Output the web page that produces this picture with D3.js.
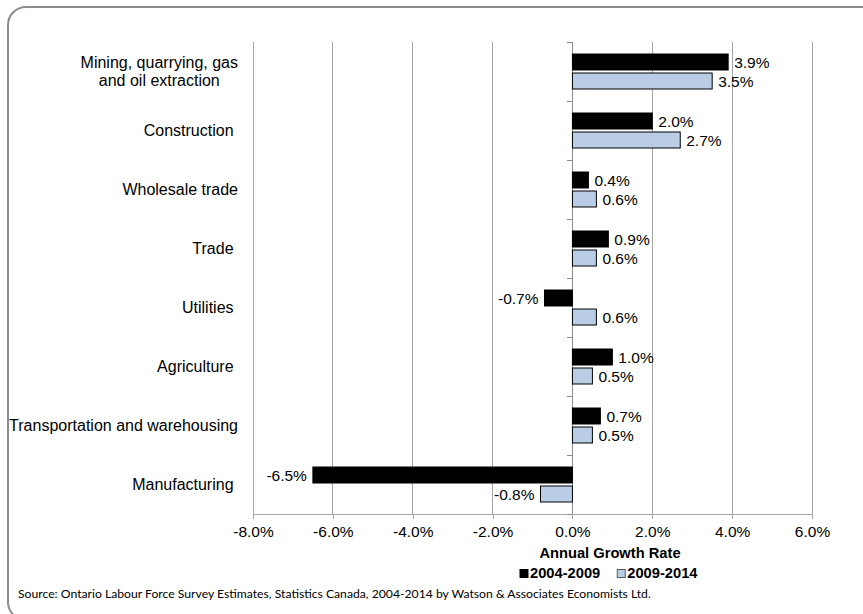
<!DOCTYPE html>
<html>
<head>
<meta charset="utf-8">
<script src="https://cdn.jsdelivr.net/npm/d3@7"></script>
<style>
  html, body { margin: 0; padding: 0; background: #fff; }
  svg { display: block; }
</style>
</head>
<body>
<svg id="chart" width="863" height="614"></svg>
<script>
// Industry groups, top to bottom (label lines per category)
const categories = [
  ["Mining, quarrying, gas", "and oil extraction"],
  ["Construction\u00a0"],
  ["Wholesale trade"],
  ["Trade\u00a0"],
  ["Utilities\u00a0"],
  ["Agriculture\u00a0"],
  ["Transportation and warehousing"],
  ["Manufacturing\u00a0"]
];
const seriesNames = ["2004-2009", "2009-2014"];
// Annual growth rates (%)
const growth2004_2009 = [3.9, 2.0, 0.4, 0.9, -0.7, 1.0, 0.7, -6.5];
const growth2009_2014 = [3.5, 2.7, 0.6, 0.6, 0.6, 0.5, 0.5, -0.8];
const xTicks = [-8, -6, -4, -2, 0, 2, 4, 6];
const axisTitle = "Annual Growth Rate";
const sourceNote = "Source: Ontario Labour Force Survey Estimates, Statistics Canada, 2004-2014 by Watson & Associates Economists Ltd.";

const colors = { "2004-2009": "#000000", "2009-2014": "#b9cde5" };
const gridColor = "#a6a6a6";
const sansFont = "'Liberation Sans', Arial, sans-serif";
// Percent with one decimal and a plain hyphen for negatives
const pct = v => d3.format(".1f")(v).replace("\u2212", "-") + "%";

const svg = d3.select("#chart");

// Outer chart frame (rounded, running past the right and bottom edges)
svg.append("rect")
  .attr("x", 8).attr("y", 7)
  .attr("width", 900).attr("height", 613)
  .attr("rx", 18).attr("ry", 18)
  .attr("fill", "#fff")
  .attr("stroke", "#8c8c8c")
  .attr("stroke-width", 2);

const plot = { left: 253, right: 812, top: 42, bottom: 514 };

const x = d3.scaleLinear().domain([-8, 6]).range([plot.left, plot.right]);
const catKeys = categories.map((c, i) => i);
const y = d3.scaleBand().domain(catKeys).range([plot.top, plot.bottom]);
const pairHeight = 35;
const y1 = d3.scaleBand().domain(seriesNames)
  .range([(y.bandwidth() - pairHeight) / 2, (y.bandwidth() + pairHeight) / 2])
  .paddingInner(3 / 19);

// Vertical gridlines
svg.append("g")
  .selectAll("line")
  .data(xTicks)
  .join("line")
  .attr("x1", d => x(d)).attr("x2", d => x(d))
  .attr("y1", plot.top).attr("y2", plot.bottom)
  .attr("stroke", gridColor).attr("stroke-width", 1)
  .attr("shape-rendering", "crispEdges");

// Bottom axis with outward ticks
const xAxis = d3.axisBottom(x)
  .tickValues(xTicks)
  .tickSize(5)
  .tickSizeOuter(0)
  .tickFormat(pct);
const gx = svg.append("g")
  .attr("transform", `translate(0,${plot.bottom})`)
  .call(xAxis);
gx.select(".domain").attr("stroke", gridColor).attr("shape-rendering", "crispEdges");
gx.selectAll(".tick line").attr("stroke", gridColor).attr("shape-rendering", "crispEdges");
gx.selectAll(".tick text")
  .attr("fill", "#000")
  .attr("font-family", sansFont)
  .attr("font-size", 15.5)
  .attr("y", 12)
  .attr("dy", "0.71em");

// Category axis along zero with small ticks between groups
svg.append("line")
  .attr("x1", x(0)).attr("x2", x(0))
  .attr("y1", plot.top).attr("y2", plot.bottom)
  .attr("stroke", "#8c8c8c")
  .attr("shape-rendering", "crispEdges");
const boundaries = catKeys.map(k => y(k)).concat([plot.bottom]);
svg.append("g")
  .selectAll("line")
  .data(boundaries)
  .join("line")
  .attr("x1", x(0) - 5).attr("x2", x(0))
  .attr("y1", d => d).attr("y2", d => d)
  .attr("stroke", "#8c8c8c")
  .attr("shape-rendering", "crispEdges");

// Bars
const rows = catKeys.map(i => ({
  key: i,
  values: [
    { series: "2004-2009", value: growth2004_2009[i] },
    { series: "2009-2014", value: growth2009_2014[i] }
  ]
}));

const groups = svg.append("g")
  .selectAll("g")
  .data(rows)
  .join("g")
  .attr("transform", d => `translate(0,${y(d.key)})`);

groups.selectAll("rect")
  .data(d => d.values)
  .join("rect")
  .attr("x", d => x(Math.min(0, d.value)))
  .attr("width", d => Math.abs(x(d.value) - x(0)))
  .attr("y", d => y1(d.series))
  .attr("height", y1.bandwidth())
  .attr("fill", d => colors[d.series])
  .attr("stroke", "#000")
  .attr("stroke-width", 1);

// Value labels
groups.selectAll("text")
  .data(d => d.values)
  .join("text")
  .attr("x", d => d.value < 0 ? x(d.value) - 6 : x(d.value) + 6)
  .attr("y", d => y1(d.series) + y1.bandwidth() / 2)
  .attr("dy", "0.36em")
  .attr("text-anchor", d => d.value < 0 ? "end" : "start")
  .attr("font-family", sansFont)
  .attr("font-size", 15.5)
  .attr("fill", "#000")
  .text(d => pct(d.value));

// Category labels, right-aligned block with centered lines
const labelRight = 238;
const lineH = 18;
catKeys.forEach(i => {
  const lines = categories[i];
  const t = svg.append("text")
    .attr("font-family", sansFont)
    .attr("font-size", 16)
    .attr("fill", "#000")
    .attr("text-anchor", "middle");
  const cy = y(i) + y.bandwidth() / 2;
  lines.forEach((ln, j) => {
    t.append("tspan")
      .attr("y", cy + (j - (lines.length - 1) / 2) * lineH)
      .attr("dy", "0.36em")
      .text(ln);
  });
  let maxW = 0;
  t.selectAll("tspan").each(function () {
    maxW = Math.max(maxW, this.getComputedTextLength());
  });
  t.selectAll("tspan").attr("x", labelRight - maxW / 2);
});

// Axis title
svg.append("text")
  .attr("x", 610).attr("y", 558)
  .attr("text-anchor", "middle")
  .attr("font-family", sansFont)
  .attr("font-weight", "bold")
  .attr("font-size", 14.7)
  .text(axisTitle);

// Legend
const legend = svg.append("g").attr("transform", "translate(520,578)");
let lx = 0;
seriesNames.forEach((name, i) => {
  legend.append("rect")
    .attr("x", lx).attr("y", -8.5)
    .attr("width", 8).attr("height", 8)
    .attr("fill", colors[name])
    .attr("stroke", i === 0 ? "#000" : "#595959")
    .attr("stroke-width", 1);
  const t = legend.append("text")
    .attr("x", lx + 10).attr("y", 0)
    .attr("font-family", sansFont)
    .attr("font-weight", "bold")
    .attr("font-size", 14.7)
    .text(name);
  lx += 10 + t.node().getComputedTextLength() + 17;
});

// Source note
svg.append("text")
  .attr("x", 18).attr("y", 598)
  .attr("font-family", "Lato, 'Open Sans', sans-serif")
  .attr("font-size", 12.2)
  .attr("fill", "#000")
  .text(sourceNote);
</script>
</body>
</html>
